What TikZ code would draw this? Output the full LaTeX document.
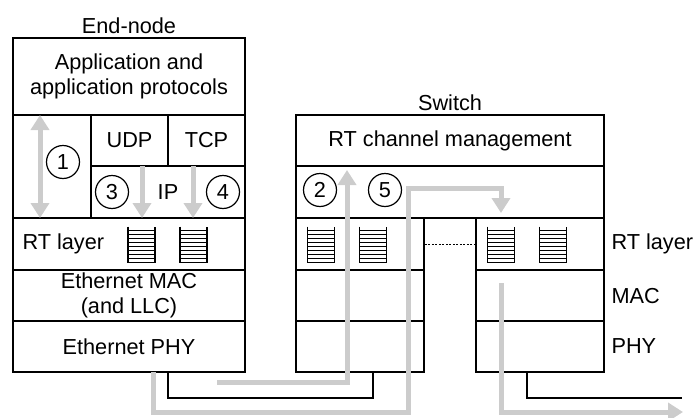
\documentclass[tikz,border=0pt]{standalone}
\usepackage{fontspec}
\setmainfont{Liberation Sans}
\usetikzlibrary{arrows.meta,calc}
\definecolor{flow}{RGB}{204,204,204}
\tikzset{
  box/.style={draw, line width=1.6pt, inner sep=0pt, align=center},
  num/.style={circle, draw, line width=1.2pt, minimum size=33pt, inner sep=0pt},
  wire/.style={line width=1.6pt},
  flowline/.style={draw=flow, line width=5pt, line join=miter},
  flowarrow/.style={flowline, -{Triangle[width=18pt,length=15pt]}},
  flowboth/.style={flowline, {Triangle[width=18pt,length=15pt]}-{Triangle[width=18pt,length=15pt]}},
  rtq/.pic={
    \draw[line width=1.4pt] (-13.5,-18) -- (-13.5,18) -- (13.5,18) -- (13.5,-18);
    \foreach \k in {-14,-10,...,14} \draw[line width=0.9pt] (-13.5,\k) -- (13.5,\k);
  }
}
\begin{document}
\begin{tikzpicture}[x=1pt,y=-1pt, every node/.append style={font=\fontsize{21.7}{25}\selectfont}]
\useasboundingbox (0,0) rectangle (694,418);
% ---------- End-node ----------
\node (endlbl) at (129,26) {End-node};
\node[box, minimum width=232pt, minimum height=77pt] (app) at (129,76.5) {Application and\\application protocols};
\node[box, minimum width=78pt, minimum height=103pt] (lcol) at (52,166.5) {};
\node[box, minimum width=77pt, minimum height=51pt] (udp) at (129.5,140.5) {UDP};
\node[box, minimum width=77pt, minimum height=51pt] (tcp) at (206.5,140.5) {TCP};
\node[box, minimum width=154pt, minimum height=52pt] (ip) at (168,192) {IP};
\node[box, minimum width=232pt, minimum height=52pt] (ert) at (129,244) {};
\node[anchor=west] (ertlbl) at (19,244) {RT layer};
\node[box, minimum width=232pt, minimum height=51pt] (emac) at (129,295.5) {Ethernet MAC\\(and LLC)};
\node[box, minimum width=232pt, minimum height=51pt] (ephy) at (129,346.5) {Ethernet PHY};
\pic at (141.5,244.5) {rtq};
\pic at (193.5,244.5) {rtq};
% ---------- Switch ----------
\node (swlbl) at (450,103) {Switch};
\node[box, minimum width=308pt, minimum height=51pt] (mgmt) at (450,140.5) {RT channel management};
\node[box, minimum width=308pt, minimum height=52pt] (swmid) at (450,192) {};
\node[box, minimum width=128pt, minimum height=52pt] (lrt) at (360,244) {};
\node[box, minimum width=128pt, minimum height=51pt] (lmac) at (360,295.5) {};
\node[box, minimum width=128pt, minimum height=51pt] (lphy) at (360,346.5) {};
\node[box, minimum width=128pt, minimum height=52pt] (rrt) at (540,244) {};
\node[box, minimum width=128pt, minimum height=51pt] (rmac) at (540,295.5) {};
\node[box, minimum width=128pt, minimum height=51pt] (rphy) at (540,346.5) {};
\pic at (321,244.5) {rtq};
\pic at (373,244.5) {rtq};
\pic at (501,244.5) {rtq};
\pic at (553,244.5) {rtq};
\draw[line width=1pt, dashed, dash pattern=on 2pt off 1.5pt] (lrt.east) -- (rrt.west);
\node[anchor=west] (rtlbl) at (608,244) {RT layer};
\node[anchor=west] (maclbl) at (608,296) {MAC};
\node[anchor=west] (phylbl) at (608,346) {PHY};
% ---------- black wires ----------
\coordinate (wend) at (682,398);
\draw[wire] ([xshift=39pt]ephy.south) |- (373,398) -- ([xshift=13pt]lphy.south);
\draw[wire] ([xshift=-13pt]rphy.south) |- (wend);
% ---------- grey flows ----------
\coordinate (a1s) at (217,382);
\coordinate (bend) at (683,412);
\draw[flowboth] (40,115) -- (40,218);
\draw[flowarrow] (142,166) -- (142,218);
\draw[flowarrow] (193,166) -- (193,218);
\draw[flowarrow] (a1s) -- (347,382) -- (347,170);
\draw[flowarrow] (153,372) -- (153,412) -- (408,412) -- (408,188) -- (501,188) -- (501,213);
\draw[flowarrow] (501,283) -- (501,412) -- (bend);
% ---------- numbers ----------
\node[num] (n1) at (63,162) {1};
\node[num] (n2) at (320,190) {2};
\node[num] (n3) at (112,192) {3};
\node[num] (n4) at (223,192) {4};
\node[num] (n5) at (385,190) {5};
\end{tikzpicture}
\end{document}
